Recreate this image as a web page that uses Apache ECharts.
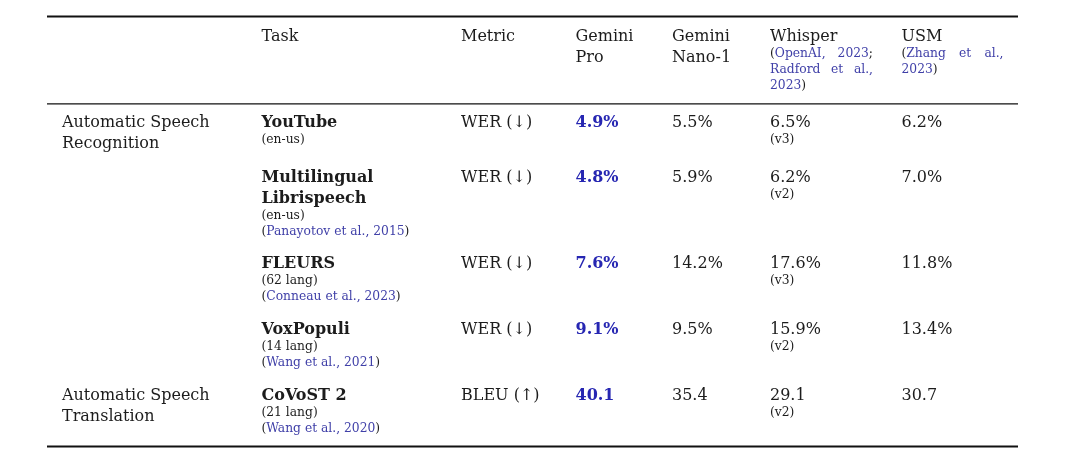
<!DOCTYPE html>
<html>
<head>
<meta charset="utf-8">
<script src="https://cdn.jsdelivr.net/npm/echarts@6/dist/echarts.min.js"></script>
<style>
html,body{margin:0;padding:0;background:#ffffff;}
#chart{width:1080px;height:461px;}
</style>
</head>
<body>
<div id="chart"></div>
<script>
// ================= DATA =================
const columnHeaders = ['', 'Task', 'Metric', 'Gemini\nPro', 'Gemini\nNano-1', 'Whisper', 'USM'];
const whisperCitations = ['OpenAI, 2023', 'Radford et al., 2023'];
const usmCitations = ['Zhang et al., 2023'];
const taskGroups = ['Automatic Speech\nRecognition', 'Automatic Speech\nTranslation'];
const taskGroupFirstRow = [0, 4];
const tasks = ['YouTube', 'Multilingual\nLibrispeech', 'FLEURS', 'VoxPopuli', 'CoVoST 2'];
const taskSubsets = ['(en-us)', '(en-us)', '(62 lang)', '(14 lang)', '(21 lang)'];
const taskCitations = ['', 'Panayotov et al., 2015', 'Conneau et al., 2023', 'Wang et al., 2021', 'Wang et al., 2020'];
const metrics = ['WER (↓)', 'WER (↓)', 'WER (↓)', 'WER (↓)', 'BLEU (↑)'];
const metricUnits = ['%', '%', '%', '%', ''];
const geminiPro = [4.9, 4.8, 7.6, 9.1, 40.1];
const geminiNano1 = [5.5, 5.9, 14.2, 9.5, 35.4];
const whisper = [6.5, 6.2, 17.6, 15.9, 29.1];
const whisperVersions = ['v3', 'v2', 'v3', 'v2', 'v2'];
const usm = [6.2, 7.0, 11.8, 13.4, 30.7];

// ================= LAYOUT / STYLE =================
const FONT = "'DejaVu Serif', serif";
const BIG = 16, SMALL = 12.3;
const STEP = { big: 21, small: 16 };
const COLORS = { text: '#1c1c1c', cite: '#4040a8', best: '#2626b2' };
const COL_X = [62, 261.5, 461, 575.5, 672, 770, 901.5];
const HEADER_BASE = 42;
const ROW_BASE = [128, 183, 269, 335, 401];
const CITE_WIDTH = { 5: 103, 6: 102 };
const CITE_BREAKS = { 5: [2, 3], 6: [3] };
const RULES = [{ y: 16.5, w: 2 }, { y: 103.8, w: 1.2 }, { y: 446.5, w: 2 }];
const RULE_X = [47, 1018];
const MID_OFFSET = 0.33; // baseline offset for 'middle' vertical align (in em)

// ================= HELPERS =================
const mctx = document.createElement('canvas').getContext('2d');
function fontOf(size, bold) { return (bold ? 'bold ' : '') + size + 'px ' + FONT; }
function tw(t, size, bold) { mctx.font = fontOf(size, bold); return mctx.measureText(t).width; }
function tokensToWords(tokens) {
  const words = [[]];
  tokens.forEach(tok => {
    tok.t.split(' ').forEach((p, i) => {
      if (i > 0) words.push([]);
      if (p) words[words.length - 1].push({ t: p, kind: tok.kind });
    });
  });
  return words.filter(w => w.length);
}
function plainLine(text, size, bold, kind) {
  return { size, bold, words: tokensToWords([{ t: text, kind }]) };
}
function citeTokens(list) {
  const toks = [{ t: '(', kind: 'text' }];
  list.forEach((c, i) => {
    if (i > 0) toks.push({ t: '; ', kind: 'text' });
    toks.push({ t: c, kind: 'cite' });
  });
  toks.push({ t: ')', kind: 'text' });
  return toks;
}
function fmt(v, unit) { return v.toFixed(1) + unit; }

// ================= BUILD CELLS =================
const cells = [];
columnHeaders.forEach((h, c) => {
  if (!h) return;
  const lines = h.split('\n').map(t => plainLine(t, BIG, false, 'text'));
  const cites = c === 5 ? whisperCitations : (c === 6 ? usmCitations : null);
  if (cites) {
    const words = tokensToWords(citeTokens(cites));
    let start = 0;
    CITE_BREAKS[c].forEach(n => {
      lines.push({ size: SMALL, bold: false, words: words.slice(start, start + n), justify: CITE_WIDTH[c] });
      start += n;
    });
    lines.push({ size: SMALL, bold: false, words: words.slice(start) });
  }
  cells.push({ col: c, base: HEADER_BASE, lines });
});
taskGroups.forEach((g, i) => {
  cells.push({ col: 0, base: ROW_BASE[taskGroupFirstRow[i]], lines: g.split('\n').map(t => plainLine(t, BIG, false, 'text')) });
});
tasks.forEach((t, r) => {
  const tl = t.split('\n').map(s => plainLine(s, BIG, true, 'text'));
  tl.push(plainLine(taskSubsets[r], SMALL, false, 'text'));
  if (taskCitations[r]) tl.push({ size: SMALL, bold: false, words: tokensToWords(citeTokens([taskCitations[r]])) });
  cells.push({ col: 1, base: ROW_BASE[r], lines: tl });
  cells.push({ col: 2, base: ROW_BASE[r], lines: [plainLine(metrics[r], BIG, false, 'text')] });
  cells.push({ col: 3, base: ROW_BASE[r], lines: [plainLine(fmt(geminiPro[r], metricUnits[r]), BIG, true, 'best')] });
  cells.push({ col: 4, base: ROW_BASE[r], lines: [plainLine(fmt(geminiNano1[r], metricUnits[r]), BIG, false, 'text')] });
  cells.push({ col: 5, base: ROW_BASE[r], lines: [plainLine(fmt(whisper[r], metricUnits[r]), BIG, false, 'text'),
                                                   plainLine('(' + whisperVersions[r] + ')', SMALL, false, 'text')] });
  cells.push({ col: 6, base: ROW_BASE[r], lines: [plainLine(fmt(usm[r], metricUnits[r]), BIG, false, 'text')] });
});

// ================= RENDER =================
function renderCell(params, api) {
  const cell = cells[params.dataIndex];
  const children = [];
  let base = cell.base;
  cell.lines.forEach((ln, li) => {
    if (li > 0) base += ln.size === BIG ? STEP.big : STEP.small;
    const spaceW = tw(' ', ln.size, ln.bold);
    const wordWidths = ln.words.map(w => w.reduce((s, sg) => s + tw(sg.t, ln.size, ln.bold), 0));
    let gap = spaceW;
    if (ln.justify && ln.words.length > 1) {
      const total = wordWidths.reduce((a, b) => a + b, 0);
      gap = (ln.justify - total) / (ln.words.length - 1);
    }
    let x = COL_X[cell.col];
    ln.words.forEach((w, wi) => {
      let sx = x;
      w.forEach(sg => {
        const p = api.coord([sx, base - MID_OFFSET * ln.size]);
        children.push({
          type: 'text', x: p[0], y: p[1],
          style: { text: sg.t, font: fontOf(ln.size, ln.bold), fill: COLORS[sg.kind], align: 'left', verticalAlign: 'middle' }
        });
        sx += tw(sg.t, ln.size, ln.bold);
      });
      x += wordWidths[wi] + gap;
    });
  });
  return { type: 'group', children };
}
function renderRule(params, api) {
  const r = RULES[params.dataIndex];
  const a = api.coord([RULE_X[0], r.y]), b = api.coord([RULE_X[1], r.y]);
  return { type: 'line', shape: { x1: a[0], y1: a[1], x2: b[0], y2: b[1] }, style: { stroke: '#111111', lineWidth: r.w } };
}

const chart = echarts.init(document.getElementById('chart'), null, { renderer: 'canvas' });
chart.setOption({
  backgroundColor: '#ffffff',
  animation: false,
  grid: { left: 0, right: 0, top: 0, bottom: 0 },
  xAxis: { type: 'value', min: 0, max: 1080, show: false },
  yAxis: { type: 'value', min: 0, max: 461, inverse: true, show: false },
  series: [
    { type: 'custom', renderItem: renderRule, data: RULES.map((r, i) => [i]), silent: true },
    { type: 'custom', renderItem: renderCell, data: cells.map((c, i) => [c.col, i]), silent: true }
  ]
});
</script>
</body>
</html>
